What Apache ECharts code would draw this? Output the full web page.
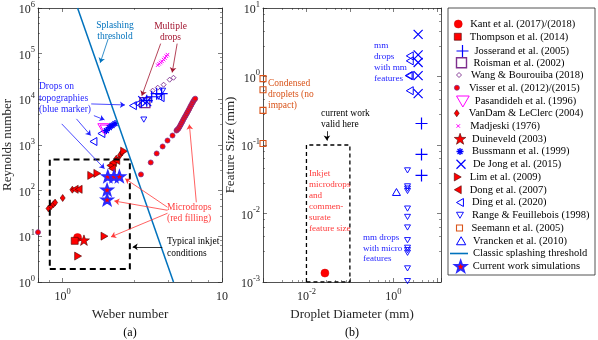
<!DOCTYPE html>
<html><head><meta charset="utf-8">
<script src="https://cdn.jsdelivr.net/npm/echarts@6/dist/echarts.min.js"></script>
<style>html,body{margin:0;padding:0;background:#fff}#c{width:598px;height:340px}</style>
</head><body><div id="c"></div>
<script>
// ---------------- DATA ----------------
// Panel (a): [Weber number, Reynolds number]
const kantA = [[1.24, 9.44]];
const thompsonA = [[1.19, 7.96]];
const josserandA = [[3.37, 9360], [3.62, 11400], [3.89, 13300], [4.18, 13300]];
const roismanA = [[3.28, 8470]];
const wangA = [[3.67, 15500], [3.95, 18000], [4.30, 20900], [4.69, 26900], [4.96, 29700]];
const visserA = [[0.70, 12.3], [3.10, 227], [3.57, 415], [3.89, 653], [4.24, 928], [4.55, 1254], [4.89, 1612], [5.18, 2073],
  [5.25, 2180], [5.33, 2290], [5.41, 2500], [5.49, 2735], [5.56, 2990], [5.64, 3260], [5.72, 3600], [5.81, 3980], [5.90, 4350],
  [5.98, 4750], [6.06, 5180], [6.15, 5660], [6.24, 6250], [6.33, 6920], [6.42, 7550], [6.51, 8260], [6.60, 9000], [6.70, 9840], [6.79, 10350]];
const pasandidehA = [[1.80, 2300], [1.86, 2150]];
const vanDamA = [[0.815, 40.6], [0.846, 45.5], [0.875, 50.4], [0.896, 54.8], [1.0, 69.1], [1.15, 105], [2.01, 357], [2.17, 500], [2.29, 600], [2.36, 687]];
const madjeskiA = [[3.95, 56000], [4.03, 60000], [4.12, 64000], [4.20, 68000], [4.30, 74000], [4.38, 80000], [4.47, 88000], [4.55, 95000]];
const duineveldA = [[1.36, 8.25]];
const bussmannA = [[1.88, 2070], [1.96, 2410], [2.04, 2670], [2.13, 2950]];
const deJongA = [[3.18, 9360], [3.37, 8900]];
const limA = [[1.51, 216], [1.65, 239], [1.25, 3.69], [1.83, 10.1], [2.43, 733]];
const dongA = [[1.19, 107], [1.26, 107], [1.99, 357], [2.07, 415], [2.17, 459], [2.04, 307]];
const dingA = [[1.56, 1193], [1.75, 1783], [2.76, 7280], [2.97, 8050], [4.12, 10900]];
const rangeA = [[3.23, 3600], [4.0, 11400], [4.24, 15400]];
const thresholdA = [[1.24, 1e6], [4.96, 1]];
const currentA = [[1.92, 206], [2.10, 206], [2.27, 206], [1.90, 105], [1.90, 63.8]];
const inkjetBoxA = [[0.83, 1.92], [2.64, 1.92], [2.64, 483], [0.83, 483], [0.83, 1.92]];

// Panel (b): [Droplet diameter (mm), Feature size (mm)]
const kantB = [[0.0266, 0.00135]];
const josserandB = [[4.45, 0.206], [4.45, 0.0728], [4.45, 0.036]];
const deJongB = [[3.72, 4.12], [3.72, 2.07], [3.72, 1.60], [3.72, 1.03], [3.72, 0.561]];
const dingB = [[2.39, 2.0], [2.39, 1.69], [2.25, 1.03], [2.39, 1.03], [2.39, 0.62]];
const rangeB = [[2.12, 0.0426], [2.12, 0.0249], [2.12, 0.0231], [2.12, 0.0213], [2.12, 0.0118], [2.12, 0.00891], [2.12, 0.00625],
  [2.12, 0.00408], [2.12, 0.00316], [2.12, 0.00292], [2.12, 0.00267], [2.12, 0.00158], [2.12, 0.00103]];
const seemannB = [[0.001, 0.93], [0.001, 0.64], [0.001, 0.32], [0.001, 0.105]];
const vranckenB = [[1.18, 0.0206]];
const inkjetBoxB = [[0.01, 0.001], [0.1, 0.001], [0.1, 0.1], [0.01, 0.1], [0.01, 0.001]];

// Tick labels
const xTicksA = [1, 10], xTickTextA = ['10^0', '10'];
const yTicksA = [1, 10, 100, 1e3, 1e4, 1e5, 1e6], yTickTextA = ['10^0', '10^1', '10^2', '10^3', '10^4', '10^5', '10^6'];
const xTicksB = [0.01, 1], xTickTextB = ['10^-2', '10^0'];
const yTicksB = [0.001, 0.01, 0.1, 1, 10], yTickTextB = ['10^-3', '10^-2', '10^-1', '10^0', '10^1'];

// Annotation arrows (data coordinates)
const arrowsA = [
  {p: [[1.93, 2.11e5], [1.72, 63100]], c: '#0072BD'},
  {p: [[4.12, 1.66e5], [3.14, 12000]], c: '#A2142F'},
  {p: [[5.23, 1.66e5], [4.87, 38800]], c: '#A2142F'},
  {p: [[1.51, 7930], [2.46, 7540]], c: '#1f1fff'},
  {p: [[1.57, 4400], [1.83, 3550]], c: '#1f1fff'},
  {p: [[1.22, 3730], [1.50, 1612]], c: '#1f1fff'},
  {p: [[0.986, 2900], [1.83, 303]], c: '#1f1fff'},
  {p: [[6.9, 55.7], [6.24, 2800]], c: '#ff3a3a'},
  {p: [[4.55, 43.3], [2.47, 183]], c: '#ff3a3a'},
  {p: [[4.55, 37.2], [2.11, 59.4]], c: '#ff3a3a'},
  {p: [[4.55, 32.0], [2.01, 9.73]], c: '#ff3a3a'},
  {p: [[4.22, 5.89], [2.75, 5.89]], c: '#000000'}
];
const arrowsB = [
  {p: [[0.0296, 0.159], [0.0296, 0.116]], c: '#000000'}
];

// ---------------- STYLE ----------------
const FF = '"Liberation Serif","Times New Roman",serif';
const AX = '#262626';
const RED = '#FF0000', EDGE = '#4a0000', BLUE = '#0000FF', PURPLE = '#7E2F8E', MAG = '#FF00FF', ORANGE = '#D95319', LBLUE = '#0072BD';
const SYM = {
  plus: 'path://M5,0L5,10M0,5L10,5',
  cross: 'path://M0,0L10,10M10,0L0,10',
  aster: 'path://M5,0L5,10M0,5L10,5M1.5,1.5L8.5,8.5M8.5,1.5L1.5,8.5',
  star: 'path://M0,-10L2.35,-3.24L9.51,-3.09L3.8,1.24L5.88,8.09L0,4L-5.88,8.09L-3.8,1.24L-9.51,-3.09L-2.35,-3.24Z',
  down: 'path://M0,0L10,0L5,8.66Z',
  left: 'path://M8.66,0L8.66,10L0,5Z',
  right: 'path://M0,0L0,10L8.66,5Z',
  up: 'path://M0,8.66L10,8.66L5,0Z',
  square: 'path://M0,0L10,0L10,10L0,10Z',
  diamond: 'path://M5,0L10,5L5,10L0,5Z',
  tallDiamond: 'path://M3.5,0L7,5L3.5,10L0,5Z',
  circle: 'path://M5,0A5,5,0,1,1,5,10A5,5,0,1,1,5,0Z'
};
const ST = {
  'Kant et al. (2017)/(2018)': {symbol: 'circle', icon: SYM.circle, size: 8, color: RED, border: '#d00000', bw: 0.5},
  'Thompson et al. (2014)': {symbol: 'rect', icon: SYM.square, size: 7, color: RED, border: EDGE, bw: 0.6},
  'Josserand et al. (2005)': {symbol: SYM.plus, size: 12, color: 'none', border: BLUE, bw: 1.2},
  'Roisman et al. (2002)': {symbol: 'rect', icon: SYM.square, size: 10, color: 'none', border: PURPLE, bw: 1.4},
  'Wang & Bourouiba (2018)': {symbol: 'diamond', icon: SYM.diamond, size: 5, color: 'none', border: PURPLE, bw: 0.9},
  'Visser et al. (2012)/(2015)': {symbol: 'circle', icon: SYM.circle, size: 5, color: RED, border: PURPLE, bw: 0.8},
  'Pasandideh et al. (1996)': {symbol: SYM.down, size: 11, color: 'none', border: MAG, bw: 1},
  'VanDam & LeClerc (2004)': {symbol: 'diamond', icon: SYM.tallDiamond, size: [5, 7], color: RED, border: EDGE, bw: 0.6},
  'Madjeski (1976)': {symbol: SYM.cross, size: 3.5, color: 'none', border: MAG, bw: 1},
  'Duineveld (2003)': {symbol: SYM.star, size: 11, color: RED, border: EDGE, bw: 0.6},
  'Bussmann et al. (1999)': {symbol: SYM.aster, size: 7, color: 'none', border: BLUE, bw: 1.3},
  'De Jong et al. (2015)': {symbol: SYM.cross, size: 9, color: 'none', border: BLUE, bw: 1.2},
  'Lim et al. (2009)': {symbol: SYM.right, size: 8, color: RED, border: EDGE, bw: 0.6},
  'Dong et al. (2007)': {symbol: SYM.left, size: 8, color: RED, border: EDGE, bw: 0.6},
  'Ding et al. (2020)': {symbol: SYM.left, size: 8, color: 'none', border: BLUE, bw: 1},
  'Range & Feuillebois (1998)': {symbol: SYM.down, size: 6, color: 'none', border: BLUE, bw: 0.9},
  'Seemann et al. (2005)': {symbol: 'rect', icon: SYM.square, size: 6, color: 'none', border: ORANGE, bw: 1.1},
  'Vrancken et al. (2010)': {symbol: SYM.up, size: 8, color: 'none', border: BLUE, bw: 1},
  'Classic splashing threshold': {line: true},
  'Current work simulations': {symbol: SYM.star, size: 11, color: RED, border: '#2a2aff', bw: 1.8}
};
const legendOrder = Object.keys(ST);

function toRich(t) {
  const i = t.indexOf('^');
  return i < 0 ? '{b|' + t + '}' : '{b|' + t.slice(0, i) + '}{s|' + t.slice(i + 1) + '}';
}
function fmt(ticks, texts) {
  return function (v) {
    const l = Math.log10(v);
    for (let i = 0; i < ticks.length; i++) if (Math.abs(l - Math.log10(ticks[i])) < 1e-6) return toRich(texts[i]);
    return '';
  };
}
const rich = {
  b: {fontSize: 12, fontFamily: FF, color: AX, lineHeight: 16, verticalAlign: 'bottom'},
  s: {fontSize: 8.5, fontFamily: FF, color: AX, lineHeight: 8, verticalAlign: 'top'}
};
function logAxis(grid, pos, min, max, labelFmt, name, nameGap) {
  const main = !!labelFmt;
  return {
    type: 'log', logBase: 10, gridIndex: grid, position: pos, min: min, max: max,
    axisLine: {show: true, onZero: false, lineStyle: {color: AX, width: 0.8}},
    axisTick: {show: true, inside: true, length: 4, lineStyle: {color: AX, width: 0.6}},
    minorTick: {show: true, splitNumber: 5, length: 2, lineStyle: {color: AX, width: 0.5}},
    splitLine: {show: false},
    axisLabel: main ? {show: true, formatter: labelFmt, rich: rich, margin: (pos === 'bottom' ? 5 : 3), hideOverlap: false} : {show: false},
    name: main ? name : '', nameLocation: 'middle', nameGap: nameGap,
    nameTextStyle: {fontFamily: FF, fontSize: 13, color: AX}
  };
}

// axis indices: panel a -> 0 (bottom/left), 1 (top/right); panel b -> 2, 3
const xAxis = [
  logAxis(0, 'bottom', 0.7, 10, fmt(xTicksA, xTickTextA), 'Weber number', 22),
  logAxis(0, 'top', 0.7, 10, null),
  logAxis(1, 'bottom', 0.001, 12.5, fmt(xTicksB, xTickTextB), 'Droplet Diameter (mm)', 22),
  logAxis(1, 'top', 0.001, 12.5, null)
];
const yAxis = [
  logAxis(0, 'left', 1, 1e6, fmt(yTicksA, yTickTextA), 'Reynolds number', 24),
  logAxis(0, 'right', 1, 1e6, null),
  logAxis(1, 'left', 0.001, 10, fmt(yTicksB, yTickTextB), 'Feature Size (mm)', 24),
  logAxis(1, 'right', 0.001, 10, null)
];
const PA = 0, PB = 2;

function scatter(name, data, ax) {
  const s = ST[name];
  return {
    type: 'scatter', name: name, data: data, xAxisIndex: ax, yAxisIndex: ax,
    symbol: s.symbol, symbolSize: s.size, symbolKeepAspect: true, clip: false,
    itemStyle: {color: s.color, borderColor: s.border, borderWidth: s.bw, opacity: 1},
    emphasis: {disabled: true}, animation: false
  };
}
function boxLine(data, ax, w, dash) {
  return {type: 'line', data: data, xAxisIndex: ax, yAxisIndex: ax, symbol: 'none', silent: true,
    lineStyle: {color: '#000', width: w, type: dash}, animation: false};
}
function arrows(list, ax) {
  return {type: 'line', data: [], xAxisIndex: ax, yAxisIndex: ax, silent: true, animation: false,
    markLine: {silent: true, symbol: ['none', 'arrow'], symbolSize: 5, label: {show: false}, animation: false,
      lineStyle: {type: 'solid', width: 0.8},
      data: list.map(a => [{coord: a.p[0], lineStyle: {color: a.c, width: 0.8, type: 'solid'}, itemStyle: {color: a.c}},
                           {coord: a.p[1], lineStyle: {color: a.c}, itemStyle: {color: a.c}}])}};
}

const series = [
  boxLine(inkjetBoxA, PA, 2, [6, 4]),
  boxLine(inkjetBoxB, PB, 1.3, [4, 3]),
  {type: 'line', name: 'Classic splashing threshold', data: thresholdA, xAxisIndex: PA, yAxisIndex: PA, symbol: 'none',
    lineStyle: {color: LBLUE, width: 1.5}, itemStyle: {color: LBLUE}, clip: true, animation: false},
  arrows(arrowsA, PA),
  arrows(arrowsB, PB),
  scatter('Visser et al. (2012)/(2015)', visserA, PA),
  scatter('Madjeski (1976)', madjeskiA, PA),
  scatter('Wang & Bourouiba (2018)', wangA, PA),
  scatter('Roisman et al. (2002)', roismanA, PA),
  scatter('Range & Feuillebois (1998)', rangeA, PA),
  scatter('Range & Feuillebois (1998)', rangeB, PB),
  scatter('Ding et al. (2020)', dingA, PA),
  scatter('Ding et al. (2020)', dingB, PB),
  scatter('Josserand et al. (2005)', josserandA, PA),
  scatter('Josserand et al. (2005)', josserandB, PB),
  scatter('De Jong et al. (2015)', deJongA, PA),
  scatter('De Jong et al. (2015)', deJongB, PB),
  scatter('Pasandideh et al. (1996)', pasandidehA, PA),
  scatter('Bussmann et al. (1999)', bussmannA, PA),
  scatter('Seemann et al. (2005)', seemannB, PB),
  scatter('Vrancken et al. (2010)', vranckenB, PB),
  scatter('VanDam & LeClerc (2004)', vanDamA, PA),
  scatter('Dong et al. (2007)', dongA, PA),
  scatter('Lim et al. (2009)', limA, PA),
  scatter('Kant et al. (2017)/(2018)', kantA, PA),
  scatter('Kant et al. (2017)/(2018)', kantB, PB),
  scatter('Thompson et al. (2014)', thompsonA, PA),
  scatter('Duineveld (2003)', duineveldA, PA),
  scatter('Current work simulations', currentA, PA)
];

// one legend component per row for exact icon sizing
const legend = legendOrder.map((name, i) => {
  const s = ST[name];
  const cy = 24 + i * 12.75;
  const lg = {
    show: true, orient: 'vertical', selectedMode: false, padding: 0,
    textStyle: {fontFamily: FF, fontSize: 10.5, color: '#000', lineHeight: 14}
  };
  if (s.line) {
    Object.assign(lg, {left: 450, top: cy - 7, itemWidth: 18, itemHeight: 1.6, symbolKeepAspect: false,
      data: [{name: name, icon: 'rect'}], itemStyle: {color: LBLUE, borderWidth: 0}});
  } else {
    const h = Array.isArray(s.size) ? s.size[1] : s.size;
    Object.assign(lg, {left: 454, top: cy - 7, itemWidth: 14, itemHeight: h,
      data: [{name: name, icon: s.icon || s.symbol}],
      itemStyle: {color: s.color, borderColor: s.border, borderWidth: s.bw}});
  }
  return lg;
});

function txt(x, y, text, color, align, size, lh) {
  return {type: 'text', x: x, y: y, silent: true, z: 10,
    style: {text: text, fill: color, font: (size || 9.5) + 'px ' + FF, align: align || 'left', verticalAlign: 'top', lineHeight: lh || 11}};
}
const graphic = [
  {type: 'rect', shape: {x: 448, y: 8, width: 147, height: 267}, style: {fill: '#fff', stroke: AX, lineWidth: 0.8}, z: 0, silent: true},
  txt(115, 19.5, 'Splashing\nthreshold', LBLUE, 'center'),
  txt(170.5, 20.5, 'Multiple\ndrops', '#A2142F', 'center'),
  txt(39, 81, 'Drops on\ntopographies\n(blue marker)', '#1f1fff', 'left', 9.5, 11.5),
  txt(167, 201.5, 'Microdrops\n(red filling)', '#ff3a3a'),
  txt(167, 235, 'Typical inkjet\nconditions', '#000', 'left', 9.5, 12),
  txt(268, 77.5, 'Condensed\ndroplets (no\nimpact)', ORANGE),
  txt(321, 107.5, 'current work\nvalid here', '#000'),
  txt(309, 168.5, 'Inkjet\nmicrodrops\nand\ncommen-\nsurate\nfeature size', '#ff3a3a', 'left', 9.1, 11),
  txt(374, 40.5, 'mm\ndrops\nwith mm\nfeatures', '#1f1fff', 'left', 9.2, 11),
  txt(363, 232.5, 'mm drops\nwith micro\nfeatures', '#1f1fff', 'left', 9, 10.5),
  txt(130, 326, '(a)', '#000', 'center', 12, 14),
  txt(352, 326, '(b)', '#000', 'center', 12, 14)
];

const chart = echarts.init(document.getElementById('c'), null, {renderer: 'canvas'});
chart.setOption({
  animation: false,
  backgroundColor: '#fff',
  grid: [
    {left: 36, top: 7, width: 186, height: 275, containLabel: false},
    {left: 263, top: 7, width: 178, height: 275, containLabel: false}
  ],
  xAxis: xAxis, yAxis: yAxis,
  legend: legend,
  graphic: graphic,
  series: series
});
</script></body></html>
